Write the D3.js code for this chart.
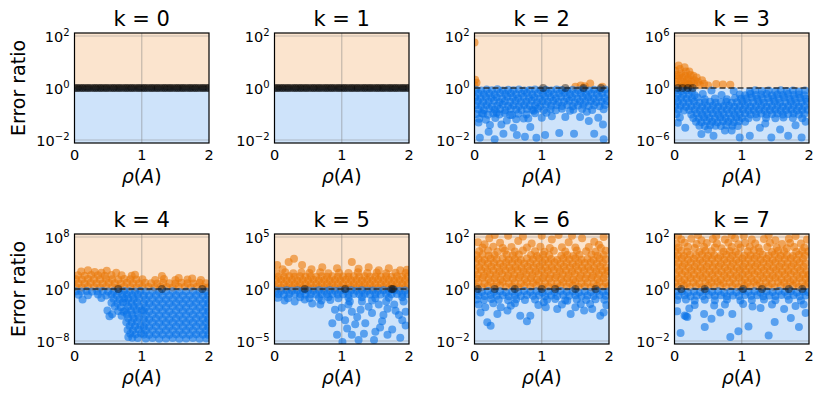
<!DOCTYPE html>
<html>
<head>
<meta charset="utf-8">
<script src="https://cdn.jsdelivr.net/npm/d3@7"></script>
<style>
body { margin: 0; background: #fff; }
svg { display: block; font-family: "DejaVu Sans", sans-serif; }
</style>
</head>
<body>
<div id="chart"></div>
<script>
// one panel per k, y extent in decades (+/-)
const ks = [0, 1, 2, 3, 4, 5, 6, 7]
const spans = [2, 2, 2, 6, 8, 5, 2, 2]
const xTicks = [0, 1, 2]

// points are [rho(A), log10(error ratio)]; 0 means ratio == 1
const flatX = [0,.03,.05,.08,.11,.13,.16,.19,.21,.24,.27,.3,.32,.35,.38,.4,.43,.46,.48,.51,.54,.57,.59,.62,.65,.67,.7,.73,.76,.78,.81,.84,.86,.89,.92,.95,.97,1,1.03,1.05,1.08,1.11,1.14,1.16,1.19,1.22,1.24,1.27,1.3,1.33,1.35,1.38,1.41,1.43,1.46,1.49,1.52,1.54,1.57,1.6,1.62,1.65,1.68,1.71,1.73,1.76,1.79,1.81,1.84,1.87,1.9,1.92,1.95,1.98,2]

const k2Over = [[0,1.75],[.01,.32],[.03,.2],[0,.1],[1.5,.05],[1.58,.1],[1.64,.07],[1.72,.17],[1.9,.05]]
const k2Tied = [[1.02,0],[1.35,0],[1.62,0],[1.88,0]]
const k2Under = [
  [.02,-.07],[.1,-.1],[.18,-.06],[.26,-.09],[.34,-.05],[.42,-.1],[.5,-.07],[.58,-.09],[.66,-.06],[.74,-.1],[.82,-.08],[.9,-.06],[.98,-.09],[1.06,-.07],[1.14,-.1],[1.22,-.06],[1.3,-.08],[1.38,-.1],[1.46,-.07],[1.54,-.09],[1.62,-.06],[1.7,-.1],[1.78,-.07],[1.86,-.09],[1.94,-.06],
  [.06,-.2],[.14,-.24],[.22,-.21],[.3,-.25],[.38,-.19],[.46,-.23],[.54,-.2],[.62,-.24],[.7,-.22],[.78,-.19],[.86,-.25],[.94,-.21],[1.02,-.23],[1.1,-.2],[1.18,-.24],[1.26,-.21],[1.34,-.19],[1.42,-.24],[1.5,-.22],[1.58,-.2],[1.66,-.25],[1.74,-.21],[1.82,-.23],[1.9,-.2],[1.98,-.22],
  [.01,-.36],[.09,-.39],[.17,-.35],[.25,-.38],[.33,-.36],[.41,-.4],[.49,-.34],[.57,-.37],[.65,-.39],[.73,-.35],[.81,-.38],[.89,-.36],[.97,-.4],[1.05,-.35],[1.13,-.37],[1.21,-.39],[1.29,-.34],[1.37,-.38],[1.45,-.36],[1.53,-.4],[1.61,-.35],[1.69,-.37],[1.77,-.39],[1.85,-.36],[1.93,-.38],
  [.05,-.5],[.13,-.54],[.21,-.52],[.29,-.49],[.37,-.55],[.45,-.51],[.53,-.53],[.61,-.5],[.69,-.54],[.77,-.52],[.85,-.49],[.93,-.55],[1.01,-.51],[1.09,-.53],[1.17,-.5],[1.25,-.54],[1.33,-.52],[1.41,-.49],[1.49,-.55],[1.57,-.51],[1.65,-.53],[1.73,-.5],[1.81,-.54],[1.89,-.52],[1.97,-.5],
  [.02,-.66],[.1,-.69],[.18,-.65],[.26,-.7],[.34,-.67],[.42,-.64],[.5,-.69],[.58,-.66],[.66,-.7],[.74,-.65],[.82,-.68],[.9,-.66],[.98,-.7],[1.06,-.64],[1.14,-.68],[1.22,-.66],[1.3,-.69],[1.38,-.65],[1.46,-.7],[1.54,-.67],[1.62,-.64],[1.7,-.69],[1.78,-.66],[1.86,-.7],[1.94,-.65],
  [.06,-.82],[.14,-.85],[.22,-.8],[.3,-.84],[.38,-.81],[.46,-.86],[.54,-.8],[.62,-.83],[.7,-.85],[.78,-.81],[.86,-.84],[.94,-.8],[1.03,-.86],[1.13,-.82],[1.3,-.8],[1.47,-.84],[1.6,-.81],[1.75,-.85],[1.92,-.82],
  [.03,-1],[.11,-.97],[.2,-1.03],[.28,-.98],[.37,-1.02],[.45,-.96],[.56,-1.04],[.65,-.99],[.77,-1.02],[.9,-.97],
  [.07,-1.18],[.17,-1.22],[.31,-1.15],[.48,-1.25],[.62,-1.2],[.8,-1.17],
  [.08,-1.91],[.3,-1.97],[.21,-1.68],[.43,-1.76],[.63,-1.81],[.75,-1.88],[.92,-1.91],[1.05,-1.81],[1.26,-1.73],[1.48,-1.76],[1.78,-1.76],[1.92,-1.97],[1.91,-1.4],[1.7,-1.27],[1.84,-1.14],[1.35,-1.12],[1.57,-1.12],[1.15,-1.09],[1,-1.14],[.83,-1.5],[.58,-1.53],[.4,-1.4],[.23,-1.42],[.06,-1.33],[.73,-1.17],[.53,-1.04],[.13,-.99],[.33,-.95],[.88,-.88],[1.42,-.88],[1.67,-.91],[1.21,-.86],[1.07,-.95]
]

const k3Over = [[.01,2],[.03,1.5],[.05,1.1],[.02,.7],[.04,.3],[.08,2.2],[.1,1.7],[.12,1.2],[.09,.8],[.11,.4],[.15,2.4],[.17,1.9],[.16,1.4],[.19,1],[.15,.6],[.18,.25],[.22,1.9],[.24,1.5],[.21,1.1],[.25,.7],[.23,.3],[.28,1.4],[.3,.9],[.29,.5],[.33,1.2],[.35,.7],[.38,.35],[.41,.9],[.44,.5],[.06,2.6],[.13,.2],[.62,.45],[.72,.4],[.83,.38],[.5,.3],[.07,1.4],[.2,.5]]
const k3Tied = [[.05,0],[.12,0],[.2,0],[.27,0]]
const k3Under = [
  [.02,-.25],[.1,-.35],[.18,-.3],[.26,-.4],[.55,-.3],[.88,-.35],[1.12,-.4],[1.2,-.25],[1.3,-.35],[1.4,-.3],[1.5,-.4],[1.58,-.25],[1.67,-.35],[1.76,-.3],[1.85,-.4],[1.94,-.3],
  [.05,-.7],[.13,-.8],[.21,-.75],[.3,-.85],[.42,-.7],[.7,-.8],[.97,-.75],[1.05,-.85],[1.13,-.7],[1.21,-.8],[1.29,-.75],[1.37,-.7],[1.45,-.85],[1.53,-.75],[1.61,-.8],[1.69,-.7],[1.77,-.8],[1.85,-.75],[1.93,-.85],
  [.02,-1.2],[.1,-1.15],[.18,-1.25],[.26,-1.2],[.34,-1.1],[.45,-1.3],[.6,-1.2],[.78,-1.3],[.9,-1.15],[.99,-1.25],[1.07,-1.2],[1.15,-1.1],[1.23,-1.25],[1.31,-1.2],[1.39,-1.15],[1.47,-1.25],[1.55,-1.2],[1.63,-1.1],[1.71,-1.25],[1.79,-1.2],[1.87,-1.15],[1.95,-1.25],
  [.05,-1.6],[.13,-1.7],[.21,-1.65],[.29,-1.6],[.37,-1.7],[.45,-1.65],[.53,-1.6],[.61,-1.7],[.69,-1.65],[.77,-1.6],[.85,-1.7],[.93,-1.65],[1.01,-1.6],[1.09,-1.7],[1.17,-1.65],[1.25,-1.6],[1.33,-1.7],[1.41,-1.65],[1.49,-1.6],[1.57,-1.7],[1.65,-1.65],[1.73,-1.6],[1.81,-1.7],[1.89,-1.65],[1.97,-1.6],
  [.01,-2.1],[.09,-2.05],[.17,-2.15],[.25,-2.1],[.33,-2.05],[.41,-2.15],[.49,-2.1],[.57,-2.05],[.65,-2.15],[.73,-2.1],[.81,-2.05],[.89,-2.15],[.97,-2.1],[1.05,-2.05],[1.13,-2.15],[1.21,-2.1],[1.29,-2.05],[1.37,-2.15],[1.45,-2.1],[1.53,-2.05],[1.61,-2.15],[1.69,-2.1],[1.77,-2.05],[1.85,-2.15],[1.93,-2.1],
  [.06,-2.5],[.14,-2.6],[.22,-2.55],[.3,-2.5],[.38,-2.6],[.46,-2.55],[.54,-2.5],[.62,-2.6],[.7,-2.55],[.78,-2.5],[.86,-2.6],[.94,-2.55],[1.02,-2.5],[1.1,-2.6],[1.18,-2.55],[1.26,-2.5],[1.34,-2.6],[1.42,-2.55],[1.5,-2.5],[1.58,-2.6],[1.66,-2.55],[1.74,-2.5],[1.82,-2.6],[1.9,-2.55],[1.98,-2.5],
  [.03,-3],[.25,-3.05],[.33,-2.95],[.41,-3.05],[.49,-3],[.57,-2.95],[.65,-3.05],[.73,-3],[.81,-2.95],[.89,-3.05],[.97,-3],[1.05,-2.95],[1.13,-3.05],[1.21,-3],[1.29,-2.95],[1.37,-3.05],[1.45,-3],[1.53,-2.95],[1.61,-3.05],[1.69,-3],[1.77,-2.95],[1.85,-3.05],[1.93,-3],
  [.28,-3.45],[.36,-3.5],[.44,-3.4],[.52,-3.45],[.6,-3.5],[.68,-3.4],[.76,-3.45],[.84,-3.5],[.92,-3.4],[1,-3.45],[1.1,-3.5],[1.22,-3.4],[1.36,-3.45],[1.5,-3.5],[1.62,-3.4],[1.76,-3.45],[1.9,-3.5],
  [.32,-3.9],[.4,-3.95],[.48,-3.85],[.56,-3.9],[.64,-3.95],[.72,-3.85],[.8,-3.9],[.88,-3.95],[.96,-3.85],[1.05,-3.9],
  [.37,-4.35],[.45,-4.4],[.53,-4.3],[.61,-4.35],[.69,-4.4],[.77,-4.3],[.86,-4.35],[.94,-4.4],
  [.16,-4.6],[.4,-5.3],[.58,-5.5],[.97,-5.7],[1.12,-5.5],[1.44,-5.7],[1.69,-5.5],[1.89,-5.7],[1.27,-4.6],[1.57,-4.8],[.08,-3.4],[.05,-4],[.75,-4.9],[1.8,-4.3],[1.95,-3.9],[1.35,-4.1],[.5,-4.8],[.85,-4.9]
]

const k4Over = [
  [.02,.3],[.11,.25],[.2,.35],[.29,.3],[.38,.25],[.47,.35],[.56,.3],[.65,.25],[.74,.35],[.83,.3],[.92,.25],[1.01,.35],[1.1,.3],[1.19,.25],[1.28,.35],[1.37,.3],[1.46,.25],[1.55,.35],[1.64,.3],[1.73,.25],[1.82,.35],[1.91,.3],[1.99,.25],
  [.06,.9],[.15,.85],[.24,.95],[.33,.9],[.42,.85],[.51,.95],[.6,.9],[.69,.85],[.78,.95],[.87,.9],[.96,.85],[1.05,.95],[1.14,.9],[1.23,.85],[1.32,.95],[1.41,.9],[1.5,.85],[1.59,.95],[1.68,.9],[1.77,.85],[1.86,.95],[1.95,.9],
  [.02,1.5],[.11,1.45],[.2,1.55],[.29,1.5],[.38,1.45],[.47,1.55],[.56,1.5],[.65,1.45],[.74,1.55],[.83,1.5],[.92,1.45],[1.01,1.5],[1.2,1.4],[1.33,1.55],[1.5,1.4],[1.68,1.45],[1.88,1.4],
  [.05,2.1],[.15,2.05],[.25,2.15],[.35,2.1],[.45,2.05],[.55,2.15],[.7,2.1],[.85,2.05],[1.3,2],
  [.1,2.7],[.3,2.6],[.48,2.8],[.62,2.5],[.2,2.9],[.9,2.2],[1.55,1.7],[1.75,1.6],[.4,2.5]
]
const k4Tied = [[.65,0],[1.3,0],[1.9,0]]
const k4Under = [
  [.02,-.35],[.1,-.4],[.18,-.3],[.26,-.4],[.34,-.35],[.42,-.3],[.5,-.4],[.06,-.9],[.2,-.95],[.35,-.85],[.47,-1],[.12,-1.6],[.4,-1.4],
  [.58,-.35],[.66,-.4],[.74,-.3],[.55,-.9],[.63,-1],[.71,-.85],[.58,-1.5],[.67,-1.6],[.74,-1.45],[.55,-2.1],[.64,-2.2],[.72,-2.05],[.6,-2.7],[.69,-2.8],[.49,-3.3],[.65,-3.4],[.73,-3.5],[.56,-3.9],[.7,-4.1],[.52,-4.2],
  [.82,-.35],[.9,-.4],[.98,-.3],[.78,-.9],[.86,-.95],[.94,-.85],[.8,-1.5],[.88,-1.55],[.96,-1.45],[.77,-2.1],[.85,-2.15],[.93,-2.05],
  [.8,-2.7],[.88,-2.75],[.96,-2.65],[.76,-3.3],[.84,-3.35],[.92,-3.25],[1,-3.3],[.78,-3.9],[.86,-3.95],[.94,-3.85],[.8,-4.5],[.88,-4.55],[.96,-4.45],
  [.77,-5.1],[.85,-5.15],[.93,-5.05],[.82,-5.7],[.9,-5.75],[.98,-5.65],[.79,-6.3],[.87,-6.35],[.95,-6.25],[.83,-6.9],[.91,-6.95],[.99,-6.85],[.86,-7.5],[.94,-7.55],[.8,-7.4],
  [1.06,-.4],[1.16,-.35],[1.26,-.45],[1.36,-.4],[1.46,-.35],[1.56,-.45],[1.66,-.4],[1.76,-.35],[1.86,-.45],[1.96,-.4],
  [1.03,-1],[1.11,-1.05],[1.21,-.95],[1.31,-1],[1.41,-1.05],[1.51,-.95],[1.61,-1],[1.71,-1.05],[1.81,-.95],[1.91,-1],[1.99,-1.05],
  [1.06,-1.6],[1.16,-1.55],[1.26,-1.65],[1.36,-1.6],[1.46,-1.55],[1.56,-1.65],[1.66,-1.6],[1.76,-1.55],[1.86,-1.65],[1.96,-1.6],
  [1.03,-2.2],[1.11,-2.25],[1.21,-2.15],[1.31,-2.2],[1.41,-2.25],[1.51,-2.15],[1.61,-2.2],[1.71,-2.25],[1.81,-2.15],[1.91,-2.2],[1.99,-2.25],
  [1.06,-2.8],[1.16,-2.75],[1.26,-2.85],[1.36,-2.8],[1.46,-2.75],[1.56,-2.85],[1.66,-2.8],[1.76,-2.75],[1.86,-2.85],[1.96,-2.8],
  [1.03,-3.4],[1.11,-3.45],[1.21,-3.35],[1.31,-3.4],[1.41,-3.45],[1.51,-3.35],[1.61,-3.4],[1.71,-3.45],[1.81,-3.35],[1.91,-3.4],[1.99,-3.45],
  [1.06,-4],[1.16,-3.95],[1.26,-4.05],[1.36,-4],[1.46,-3.95],[1.56,-4.05],[1.66,-4],[1.76,-3.95],[1.86,-4.05],[1.96,-4],
  [1.03,-4.6],[1.11,-4.65],[1.21,-4.55],[1.31,-4.6],[1.41,-4.65],[1.51,-4.55],[1.61,-4.6],[1.71,-4.65],[1.81,-4.55],[1.91,-4.6],[1.99,-4.65],
  [1.06,-5.2],[1.16,-5.15],[1.26,-5.25],[1.36,-5.2],[1.46,-5.15],[1.56,-5.25],[1.66,-5.2],[1.76,-5.15],[1.86,-5.25],[1.96,-5.2],
  [1.03,-5.8],[1.11,-5.85],[1.21,-5.75],[1.31,-5.8],[1.41,-5.85],[1.51,-5.75],[1.61,-5.8],[1.71,-5.85],[1.81,-5.75],[1.91,-5.8],[1.99,-5.85],
  [1.06,-6.4],[1.16,-6.35],[1.26,-6.45],[1.36,-6.4],[1.46,-6.35],[1.56,-6.45],[1.66,-6.4],[1.76,-6.35],[1.86,-6.45],[1.96,-6.4],
  [1.03,-7],[1.11,-7.05],[1.21,-6.95],[1.31,-7],[1.41,-7.05],[1.51,-6.95],[1.61,-7],[1.71,-7.05],[1.81,-6.95],[1.91,-7],[1.99,-7.05],
  [1.06,-7.6],[1.16,-7.55],[1.26,-7.65],[1.36,-7.6],[1.46,-7.55],[1.56,-7.65],[1.66,-7.6],[1.76,-7.55],[1.86,-7.65],[1.96,-7.6]
]

const k5Over = [
  [.02,.15],[.1,.12],[.18,.17],[.26,.14],[.34,.18],[.42,.13],[.5,.15],[.58,.12],[.66,.17],[.74,.14],[.82,.18],[.9,.13],[.98,.15],[1.06,.12],[1.14,.17],[1.22,.14],[1.3,.18],[1.38,.13],[1.46,.15],[1.54,.12],[1.62,.17],[1.7,.14],[1.78,.18],[1.86,.13],[1.94,.15],
  [.06,.5],[.14,.47],[.22,.53],[.3,.49],[.38,.52],[.46,.48],[.54,.5],[.62,.47],[.7,.53],[.78,.49],[.86,.52],[.94,.48],[1.02,.5],[1.1,.47],[1.18,.53],[1.26,.49],[1.34,.52],[1.42,.48],[1.5,.5],[1.58,.47],[1.66,.53],[1.74,.49],[1.82,.52],[1.9,.48],[1.98,.5],
  [.02,.85],[.1,.88],[.18,.83],[.26,.86],[.34,.82],[.42,.87],[.5,.85],[.58,.88],[.66,.83],[.74,.86],[.82,.82],[.9,.87],[.98,.85],[1.06,.88],[1.14,.83],[1.22,.86],[1.3,.82],[1.38,.87],[1.46,.85],[1.54,.88],[1.62,.83],[1.7,.86],[1.78,.82],[1.86,.87],[1.94,.85],
  [.06,1.2],[.14,1.17],[.22,1.23],[.3,1.19],[.38,1.22],[.46,1.18],[.54,1.2],[.62,1.17],[.7,1.23],[.78,1.19],[.86,1.22],[.94,1.18],[1.02,1.2],[1.1,1.17],[1.18,1.23],[1.26,1.19],[1.34,1.22],[1.42,1.18],[1.5,1.2],[1.58,1.17],[1.66,1.23],[1.74,1.19],[1.82,1.22],[1.9,1.18],[1.98,1.2],
  [.03,1.55],[.16,1.6],[.28,1.52],[.4,1.58],[.52,1.54],[.68,1.6],[.8,1.52],[.96,1.57],[1.1,1.53],[1.24,1.6],[1.38,1.55],[1.52,1.58],[1.66,1.52],[1.8,1.57],[1.95,1.54],
  [.29,2.9],[.21,2.6],[.04,2.3],[.41,2.3],[1.15,2.6],[1.4,2.1],[1.55,1.8],[.93,2],[1.87,1.8],[.71,2.1],[.12,1.9],[.55,1.9],[1.25,1.95],[1.7,2],[1.97,1.85]
]
const k5Tied = [[.45,0],[1.05,0],[1.74,0],[1.76,0]]
const k5Under = [
  [.02,-.15],[.1,-.18],[.18,-.13],[.26,-.16],[.34,-.12],[.42,-.17],[.5,-.15],[.58,-.18],[.66,-.13],[.74,-.16],[.82,-.12],[.9,-.17],[.98,-.15],[1.06,-.18],[1.14,-.13],[1.22,-.16],[1.3,-.12],[1.38,-.17],[1.46,-.15],[1.54,-.18],[1.62,-.13],[1.7,-.16],[1.78,-.12],[1.86,-.17],[1.94,-.15],
  [.06,-.5],[.14,-.53],[.22,-.47],[.3,-.51],[.38,-.48],[.46,-.52],[.54,-.5],[.62,-.53],[.7,-.47],[.78,-.51],[.86,-.48],[.94,-.52],[1.02,-.5],[1.1,-.53],[1.18,-.47],[1.26,-.51],[1.34,-.48],[1.42,-.52],[1.5,-.5],[1.58,-.53],[1.66,-.47],[1.74,-.51],[1.82,-.48],[1.9,-.52],[1.98,-.5],
  [.05,-.85],[.2,-.9],[.38,-.8],[.52,-.9],[.66,-.85],[.8,-.8],[.95,-.9],[1.1,-.85],[1.3,-.8],[1.5,-.9],[1.7,-.85],[1.9,-.8],
  [.56,-1.4],[.68,-1.5],[.83,-1.06],[.3,-1.2],[.86,-3.3],[.96,-2.7],[1.01,-5.1],[1.08,-3.8],[1.15,-2.2],[1.25,-4.9],[1.35,-3.3],[1.45,-2.3],[1.5,-4.1],[1.6,-3.1],[1.68,-1.9],[1.75,-3.9],[1.85,-2.5],[1.92,-1.2],[1.3,-1.2],[1.55,-1.5],[1.1,-1.5],[1.23,-2.7],[1.48,-4.9],[1.68,-4.4],[1.87,-4.7],[.93,-4.4],[1.15,-4.4],[1.95,-3.5],[1,-1.8],[1.2,-3.4],[1.4,-1.7],[1.62,-2.5],[1.78,-1.5],[1.9,-3],[.9,-2],[1.05,-3],[1.33,-4.3],[1.57,-3.7],[1.8,-2.1],[1.12,-1.2],[1.45,-1.1],[1.66,-1.2],[.7,-1.1],[.45,-1],[.15,-1.1],[1.95,-2.2],[1.28,-2]
]

const k6Over = [
  [.02,.1],[.11,.07],[.2,.12],[.29,.09],[.38,.13],[.47,.08],[.56,.1],[.65,.07],[.74,.12],[.83,.09],[.92,.13],[1.01,.08],[1.1,.1],[1.19,.07],[1.28,.12],[1.37,.09],[1.46,.13],[1.55,.08],[1.64,.1],[1.73,.07],[1.82,.12],[1.91,.09],[1.99,.11],
  [.06,.25],[.15,.22],[.24,.27],[.33,.24],[.42,.28],[.51,.23],[.6,.25],[.69,.22],[.78,.27],[.87,.24],[.96,.28],[1.05,.23],[1.14,.25],[1.23,.22],[1.32,.27],[1.41,.24],[1.5,.28],[1.59,.23],[1.68,.25],[1.77,.22],[1.86,.27],[1.95,.24],
  [.03,.4],[.12,.43],[.21,.38],[.3,.41],[.39,.37],[.48,.42],[.57,.4],[.66,.43],[.75,.38],[.84,.41],[.93,.37],[1.02,.42],[1.11,.4],[1.2,.43],[1.29,.38],[1.38,.41],[1.47,.37],[1.56,.42],[1.65,.4],[1.74,.43],[1.83,.38],[1.92,.41],
  [.05,.55],[.14,.52],[.23,.57],[.32,.54],[.41,.58],[.5,.53],[.59,.55],[.68,.52],[.77,.57],[.86,.54],[.95,.58],[1.04,.53],[1.13,.55],[1.22,.52],[1.31,.57],[1.4,.54],[1.49,.58],[1.58,.53],[1.67,.55],[1.76,.52],[1.85,.57],[1.94,.54],
  [.01,.7],[.1,.73],[.19,.68],[.28,.71],[.37,.67],[.46,.72],[.55,.7],[.64,.73],[.73,.68],[.82,.71],[.91,.67],[1,.72],[1.09,.7],[1.18,.73],[1.27,.68],[1.36,.71],[1.45,.67],[1.54,.72],[1.63,.7],[1.72,.73],[1.81,.68],[1.9,.71],[1.98,.69],
  [.07,.85],[.16,.82],[.25,.87],[.34,.84],[.43,.88],[.52,.83],[.61,.85],[.7,.82],[.79,.87],[.88,.84],[.97,.88],[1.06,.83],[1.15,.85],[1.24,.82],[1.33,.87],[1.42,.84],[1.51,.88],[1.6,.83],[1.69,.85],[1.78,.82],[1.87,.87],[1.96,.84],
  [.02,1],[.11,1.03],[.2,.98],[.29,1.01],[.38,.97],[.47,1.02],[.56,1],[.65,1.03],[.74,.98],[.83,1.01],[.92,.97],[1.01,1.02],[1.1,1],[1.19,1.03],[1.28,.98],[1.37,1.01],[1.46,.97],[1.55,1.02],[1.64,1],[1.73,1.03],[1.82,.98],[1.91,1.01],
  [.06,1.15],[.15,1.12],[.24,1.17],[.33,1.14],[.42,1.18],[.51,1.13],[.6,1.15],[.69,1.12],[.78,1.17],[.87,1.14],[.96,1.18],[1.05,1.13],[1.14,1.15],[1.23,1.12],[1.32,1.17],[1.41,1.14],[1.5,1.18],[1.59,1.13],[1.68,1.15],[1.77,1.12],[1.86,1.17],[1.95,1.14],
  [.03,1.3],[.12,1.33],[.21,1.28],[.3,1.31],[.48,1.32],[.57,1.3],[.66,1.33],[.84,1.31],[.93,1.27],[1.02,1.32],[1.11,1.3],[1.29,1.28],[1.38,1.31],[1.47,1.27],[1.56,1.32],[1.74,1.33],[1.83,1.28],[1.92,1.31],
  [.07,1.45],[.2,1.48],[.34,1.43],[.45,1.47],[.6,1.44],[.72,1.48],[.9,1.45],[1.04,1.43],[1.18,1.47],[1.35,1.44],[1.52,1.48],[1.66,1.45],[1.8,1.43],[1.95,1.47],
  [.12,1.6],[.28,1.63],[.42,1.58],[.55,1.62],[.78,1.6],[.98,1.63],[1.12,1.58],[1.3,1.61],[1.5,1.6],[1.7,1.62],[1.88,1.58],
  [.05,1.8],[.22,1.95],[.38,1.78],[.5,2.05],[.65,1.85],[.85,1.75],[1,2.05],[1.15,1.9],[1.25,2.08],[1.4,1.8],[1.6,1.95],[1.78,1.82],[1.92,2],[.3,2.08],[.72,2.02],[1.45,2.05],[1.85,1.7],[.15,1.72]
]
const k6Tied = [[.05,0],[.3,0],[.6,0],[1,0],[1.2,0],[1.5,0],[1.8,0]]
const k6Under = [
  [.02,-.1],[.11,-.12],[.2,-.08],[.29,-.11],[.38,-.09],[.47,-.13],[.56,-.1],[.65,-.12],[.74,-.08],[.83,-.11],[.92,-.09],[1.01,-.13],[1.1,-.1],[1.19,-.12],[1.28,-.08],[1.37,-.11],[1.46,-.09],[1.55,-.13],[1.64,-.1],[1.73,-.12],[1.82,-.08],[1.91,-.11],[1.99,-.1],
  [.06,-.25],[.15,-.27],[.24,-.23],[.33,-.26],[.42,-.24],[.51,-.28],[.6,-.25],[.69,-.27],[.78,-.23],[.87,-.26],[.96,-.24],[1.05,-.28],[1.14,-.25],[1.23,-.27],[1.32,-.23],[1.41,-.26],[1.5,-.24],[1.59,-.28],[1.68,-.25],[1.77,-.27],[1.86,-.23],[1.95,-.26],
  [.03,-.4],[.14,-.42],[.25,-.38],[.36,-.41],[.5,-.43],[.62,-.39],[.75,-.42],[.9,-.4],[1.08,-.41],[1.2,-.38],[1.35,-.43],[1.52,-.4],[1.66,-.42],[1.8,-.39],[1.93,-.41],
  [.24,-1.41],[.19,-1.28],[.34,-.96],[.09,-.9],[.49,-.83],[.68,-1.03],[.83,-1.03],[.78,-1.24],[1.03,-.51],[1.06,-.7],[1.23,-.77],[1.38,-.45],[1.5,-.7],[1.63,-.83],[1.75,-.77],[1.87,-1.03],[1.92,-.9],[.39,-.7],[.54,-.64],[.16,-.7],[1.43,-.96],[1.58,-.58],[.06,-.6],[.28,-.55],[.95,-.62],[1.3,-.6],[1.72,-.58],[1.96,-.62],[.6,-.55]
]

const k7Over = [
  [.05,.1],[.14,.13],[.23,.08],[.32,.11],[.41,.07],[.5,.12],[.59,.1],[.68,.13],[.77,.08],[.86,.11],[.95,.07],[1.04,.12],[1.13,.1],[1.22,.13],[1.31,.08],[1.4,.11],[1.49,.07],[1.58,.12],[1.67,.1],[1.76,.13],[1.85,.08],[1.94,.11],
  [.01,.25],[.1,.28],[.19,.23],[.28,.26],[.37,.22],[.46,.27],[.55,.25],[.64,.28],[.73,.23],[.82,.26],[.91,.22],[1,.27],[1.09,.25],[1.18,.28],[1.27,.23],[1.36,.26],[1.45,.22],[1.54,.27],[1.63,.25],[1.72,.28],[1.81,.23],[1.9,.26],[1.99,.24],
  [.06,.4],[.15,.37],[.24,.42],[.33,.39],[.42,.43],[.51,.38],[.6,.4],[.69,.37],[.78,.42],[.87,.39],[.96,.43],[1.05,.38],[1.14,.4],[1.23,.37],[1.32,.42],[1.41,.39],[1.5,.43],[1.59,.38],[1.68,.4],[1.77,.37],[1.86,.42],[1.95,.39],
  [.02,.55],[.11,.58],[.2,.53],[.29,.56],[.38,.52],[.47,.57],[.56,.55],[.65,.58],[.74,.53],[.83,.56],[.92,.52],[1.01,.57],[1.1,.55],[1.19,.58],[1.28,.53],[1.37,.56],[1.46,.52],[1.55,.57],[1.64,.55],[1.73,.58],[1.82,.53],[1.91,.56],[1.99,.54],
  [.07,.7],[.16,.67],[.25,.72],[.34,.69],[.43,.73],[.52,.68],[.61,.7],[.7,.67],[.79,.72],[.88,.69],[.97,.73],[1.06,.68],[1.15,.7],[1.24,.67],[1.33,.72],[1.42,.69],[1.51,.73],[1.6,.68],[1.69,.7],[1.78,.67],[1.87,.72],[1.96,.69],
  [.03,.85],[.12,.88],[.21,.83],[.3,.86],[.39,.82],[.48,.87],[.57,.85],[.66,.88],[.75,.83],[.84,.86],[.93,.82],[1.02,.87],[1.11,.85],[1.2,.88],[1.29,.83],[1.38,.86],[1.47,.82],[1.56,.87],[1.65,.85],[1.74,.88],[1.83,.83],[1.92,.86],
  [.06,1],[.15,.97],[.24,1.02],[.33,.99],[.42,1.03],[.51,.98],[.6,1],[.69,.97],[.78,1.02],[.87,.99],[.96,1.03],[1.05,.98],[1.14,1],[1.23,.97],[1.32,1.02],[1.41,.99],[1.5,1.03],[1.59,.98],[1.68,1],[1.77,.97],[1.86,1.02],[1.95,.99],
  [.02,1.15],[.11,1.18],[.2,1.13],[.29,1.16],[.38,1.12],[.47,1.17],[.56,1.15],[.65,1.18],[.74,1.13],[.83,1.16],[.92,1.12],[1.01,1.17],[1.1,1.15],[1.19,1.18],[1.28,1.13],[1.37,1.16],[1.46,1.12],[1.55,1.17],[1.64,1.15],[1.73,1.18],[1.82,1.13],[1.91,1.16],
  [.05,1.3],[.14,1.27],[.23,1.32],[.32,1.29],[.41,1.33],[.5,1.28],[.59,1.3],[.68,1.27],[.77,1.32],[.86,1.29],[.95,1.33],[1.04,1.28],[1.13,1.3],[1.22,1.27],[1.31,1.32],[1.4,1.29],[1.49,1.33],[1.58,1.28],[1.67,1.3],[1.76,1.27],[1.85,1.32],[1.94,1.29],
  [.01,1.45],[.1,1.48],[.19,1.43],[.37,1.42],[.46,1.47],[.55,1.45],[.73,1.43],[.82,1.46],[.91,1.42],[1.09,1.45],[1.18,1.48],[1.27,1.43],[1.45,1.42],[1.54,1.47],[1.63,1.45],[1.81,1.43],[1.9,1.46],[1.99,1.44],
  [.06,1.6],[.2,1.63],[.3,1.58],[.44,1.62],[.6,1.6],[.7,1.57],[.85,1.62],[.98,1.6],[1.12,1.63],[1.25,1.58],[1.38,1.62],[1.52,1.6],[1.67,1.57],[1.78,1.62],[1.93,1.6],
  [.03,1.75],[.15,1.78],[.33,1.73],[.48,1.77],[.63,1.75],[.8,1.78],[.95,1.72],[1.05,1.77],[1.2,1.75],[1.42,1.78],[1.6,1.73],[1.72,1.77],[1.88,1.75],
  [.1,1.9],[.25,1.93],[.4,1.88],[.57,1.92],[.75,1.9],[.9,1.95],[1.15,1.9],[1.33,1.92],[1.5,1.88],[1.7,1.93],[1.97,1.9],
  [.05,2.05],[.35,2.08],[.62,2.04],[.85,2.07],[1.03,2.05],[1.4,2.07],[1.8,2.04]
]
const k7Tied = [[.1,0],[.45,0],[1.02,0],[1.3,0],[1.7,0],[1.9,0]]
const k7Under = [
  [.02,-.11],[.11,-.09],[.2,-.13],[.29,-.1],[.38,-.12],[.47,-.08],[.56,-.11],[.65,-.09],[.74,-.13],[.83,-.1],[.92,-.12],[1.01,-.08],[1.1,-.11],[1.19,-.09],[1.28,-.13],[1.37,-.1],[1.46,-.12],[1.55,-.08],[1.64,-.11],[1.73,-.09],[1.82,-.13],[1.91,-.1],[1.99,-.12],
  [.06,-.26],[.15,-.24],[.24,-.28],[.33,-.25],[.42,-.27],[.51,-.23],[.6,-.26],[.69,-.24],[.78,-.28],[.87,-.25],[.96,-.27],[1.05,-.23],[1.14,-.26],[1.23,-.24],[1.32,-.28],[1.41,-.25],[1.5,-.27],[1.59,-.23],[1.68,-.26],[1.77,-.24],[1.86,-.28],[1.95,-.25],
  [.04,-.42],[.17,-.4],[.3,-.44],[.45,-.41],[.6,-.43],[.78,-.4],[.98,-.44],[1.15,-.42],[1.33,-.4],[1.5,-.43],[1.7,-.41],[1.88,-.44],
  [.09,-1.69],[.45,-1.46],[.83,-1.85],[.95,-1.63],[1.1,-1.44],[1.4,-1.79],[1.85,-1.46],[1.49,-1.27],[1.73,-1.12],[.44,-.96],[.55,-1.14],[.68,-.9],[.86,-.96],[.17,-1.05],[.19,-1.08],[.15,-1.02],[1.28,-.73],[1.63,-.77],[1.95,-.92],[.59,-.63],[1.16,-.67],[.04,-.86],[.3,-.62],[.75,-.6],[1.02,-.58],[1.45,-.6],[1.8,-.65],[.22,-.75],[1.92,-.6]
]

const panelPoints = [
  flatX.map(x => [x, 0]),
  flatX.map(x => [x, 0]),
  [...k2Over, ...k2Under, ...k2Tied],
  [...k3Over, ...k3Under, ...k3Tied],
  [...k4Over, ...k4Under, ...k4Tied],
  [...k5Over, ...k5Under, ...k5Tied],
  [...k6Over, ...k6Under, ...k6Tied],
  [...k7Over, ...k7Under, ...k7Tied]
]

const W = 822, H = 398
const panelW = 134.5, panelH = 110
const lefts = [74.5, 274.5, 474.5, 674.5]
const tops = [33, 234]
const orange = '#ea7a0c', blue = '#0a73e8'

const svg = d3.select('#chart').append('svg').attr('width', W).attr('height', H)
const defs = svg.append('defs')
defs.append('clipPath').attr('id', 'clip')
    .append('rect').attr('width', panelW).attr('height', panelH)

const minus = n => n < 0 ? '\u2212' + (-n) : String(n)

ks.forEach((k, i) => {
    const col = i % 4, row = Math.floor(i / 4)
    const span = spans[i]
    const x = d3.scaleLinear().domain([0, 2]).range([0, panelW])
    const lim = span * 1.058
    const y = d3.scaleLog().domain([Math.pow(10, -lim), Math.pow(10, lim)]).range([panelH, 0])

    const g = svg.append('g').attr('transform', `translate(${lefts[col]},${tops[row]})`)

    // shaded halves
    g.append('rect').attr('width', panelW).attr('height', y(1))
        .attr('fill', orange).attr('fill-opacity', 0.2)
    g.append('rect').attr('y', y(1)).attr('width', panelW).attr('height', panelH - y(1))
        .attr('fill', blue).attr('fill-opacity', 0.2)

    // reference lines
    const ref = g.append('g').attr('stroke', '#808080').attr('stroke-opacity', 0.45).attr('stroke-width', 1.2)
    ref.append('line').attr('x1', x(1)).attr('x2', x(1)).attr('y1', 0).attr('y2', panelH)
    ;[span, -span].forEach(e => {
        ref.append('line').attr('x1', 0).attr('x2', panelW)
            .attr('y1', y(Math.pow(10, e))).attr('y2', y(Math.pow(10, e)))
    })

    // points
    g.append('g').attr('clip-path', 'url(#clip)')
        .selectAll('circle')
        .data(panelPoints[i])
        .enter()
        .append('circle')
        .attr('cx', d => x(d[0]))
        .attr('cy', d => y(Math.pow(10, d[1])))
        .attr('r', 4)
        .attr('fill', d => d[1] > 0 ? orange : d[1] < 0 ? blue : '#000')
        .attr('fill-opacity', d => d[1] === 0 ? 0.4 : 0.6)

    // ratio = 1
    g.append('line').attr('x1', 0).attr('x2', panelW).attr('y1', y(1)).attr('y2', y(1))
        .attr('stroke', '#222').attr('stroke-opacity', 0.65).attr('stroke-width', 2)
        .attr('stroke-dasharray', '6,3')

    g.append('rect').attr('width', panelW).attr('height', panelH)
        .attr('fill', 'none').attr('stroke', '#000').attr('stroke-width', 1.2)

    // title
    g.append('text').attr('x', panelW / 2).attr('y', -7).attr('text-anchor', 'middle')
        .style('font-size', '21px').text(`k = ${k}`)

    // x ticks
    g.selectAll('.xt').data(xTicks).enter().append('text')
        .attr('x', d => x(d)).attr('y', panelH + 16.5).attr('text-anchor', 'middle')
        .style('font-size', '14.5px').text(d => d)

    // y ticks
    ;[span, 0, -span].forEach(e => {
        const t = g.append('text').attr('x', -5).attr('y', y(Math.pow(10, e)) + 6)
            .attr('text-anchor', 'end').style('font-size', '14.5px')
        t.append('tspan').text('10')
        t.append('tspan').attr('dy', -6).style('font-size', '10px').text(minus(e))
    })

    // x label
    const xl = g.append('text').attr('x', panelW / 2).attr('y', panelH + 40)
        .attr('text-anchor', 'middle').style('font-size', '19px')
    xl.append('tspan').style('font-style', 'italic').text('\u03c1')
    xl.append('tspan').text('(')
    xl.append('tspan').style('font-style', 'italic').text('A')
    xl.append('tspan').text(')')

    if (col === 0) {
        g.append('text')
            .attr('transform', `translate(${-50},${panelH / 2}) rotate(-90)`)
            .attr('text-anchor', 'middle').style('font-size', '19px')
            .text('Error ratio')
    }
})
</script>
</body>
</html>
